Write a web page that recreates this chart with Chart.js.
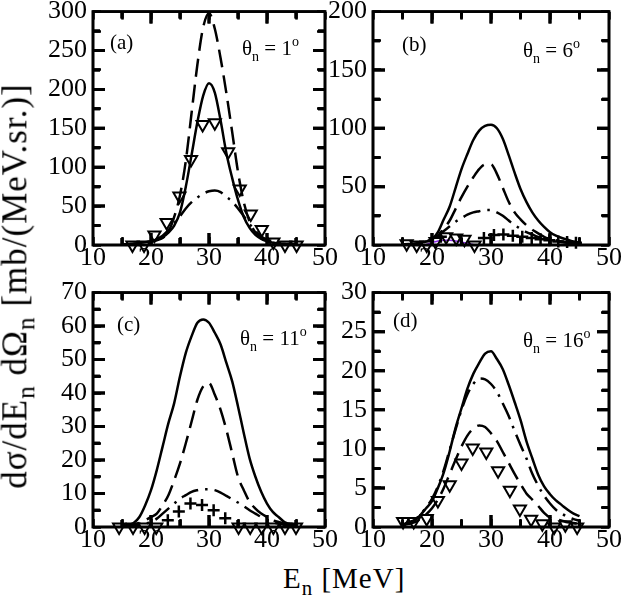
<!DOCTYPE html>
<html>
<head>
<meta charset="utf-8">
<script src="https://cdn.jsdelivr.net/npm/chart.js@4.4.0/dist/chart.umd.min.js"></script>
<style>
  body { margin: 0; background: #fff; }
  #wrap { position: relative; width: 623px; height: 604px; overflow: hidden; background: #fff; font-family: 'Liberation Serif', serif; color: #000; }
  canvas { position: absolute; }
  .txt { position: absolute; white-space: nowrap; line-height: 1; font-size: 21px; }
  .txt sub { font-size: 14px; vertical-align: -6px; }
  .txt sup { font-size: 14px; vertical-align: 9px; }
  .title { position: absolute; white-space: nowrap; line-height: 1; letter-spacing: 1px; }
  .title sub { font-size: 0.72em; vertical-align: -0.32em; }
</style>
</head>
<body>
<div id="wrap">
  <canvas id="panelA"></canvas>
  <canvas id="panelB"></canvas>
  <canvas id="panelC"></canvas>
  <canvas id="panelD"></canvas>

  <div class="txt" style="left:110px; top:32px;">(a)</div>
  <div class="txt" style="left:242px; top:35px;">θ<sub>n</sub> = 1<sup>o</sup></div>
  <div class="txt" style="left:402px; top:34px;">(b)</div>
  <div class="txt" style="left:523px; top:37px;">θ<sub>n</sub> = 6<sup>o</sup></div>
  <div class="txt" style="left:117px; top:314px;">(c)</div>
  <div class="txt" style="left:240px; top:325px;">θ<sub>n</sub> = 11<sup>o</sup></div>
  <div class="txt" style="left:393px; top:310px;">(d)</div>
  <div class="txt" style="left:523px; top:327px;">θ<sub>n</sub> = 16<sup>o</sup></div>

  <div class="title" style="font-size:35px; left:18px; top:286px; transform: translate(-50%, -50%) rotate(-90deg);">dσ/dE<sub>n</sub> dΩ<sub>n</sub> [mb/(MeV.sr.)]</div>
  <div class="title" style="font-size:29px; left:283px; top:564px;">E<sub>n</sub> [MeV]</div>
</div>
<script>
// neutron energy grid for the calculated curves (MeV)
var energy = [15, 16, 17, 18, 19, 20, 21, 22, 23, 24, 25, 26, 27, 28, 29, 30,
              31, 32, 33, 34, 35, 36, 37, 38, 39, 40, 41, 42, 43, 44, 45];
var xTicks = [10, 20, 30, 40, 50];

// (a) theta = 1 deg
var solidA   = [0.5, 1, 1.5, 2.5, 3.5, 5, 7, 10, 16, 25, 42, 75, 116, 158, 192, 208,
                196, 160, 118, 86, 58, 36, 22, 13, 8, 5, 3, 2, 1.5, 1, 0.5];
var dashedA  = [0.5, 0.8, 1.2, 2, 3, 4, 6, 9, 17, 36, 64, 108, 170, 232, 280, 298,
                278, 240, 195, 145, 94, 55, 30, 16, 9, 5, 3, 2, 1.2, 0.8, 0.5];
var dashDotA = [0.5, 1, 1.5, 2, 3, 5, 8, 12, 19, 28, 37, 47, 55, 61, 66, 69,
                70, 68, 62, 56, 47, 37, 27, 18, 11, 7, 5, 3, 2, 1.5, 1];
var triXA = [16.8, 18.8, 20.6, 22.7, 24.9, 26.9, 28.9, 31.0, 33.3, 35.3, 37.2, 39.1, 41.1, 43.1, 45.1];
var triYA = [0, 0, 13, 29, 63, 110, 155, 157, 120, 72, 40, 20, 4, 0, 0];

// (b) theta = 6 deg
var solidB   = [0.5, 0.8, 1, 2, 3, 5, 11, 22, 33, 49, 65, 78, 90, 98, 102, 103,
                100, 91, 77, 62, 48, 37, 28, 21, 15.5, 11, 8, 6, 4.5, 3, 2];
var dashedB  = [0.3, 0.5, 0.8, 1.5, 3, 5, 8, 14, 21, 31, 41, 50, 58, 65, 69, 69,
                61, 49, 37, 28, 22, 17, 13, 10, 7, 5, 4, 3, 2, 1.5, 1];
var dashDotB = [0.3, 0.5, 0.8, 1.5, 3, 5, 8, 12, 16, 20, 23, 26, 28, 29, 30, 30,
                28, 25, 21, 17, 14, 11, 9, 7, 5.5, 4, 3, 2.5, 2, 1.5, 1];
var violetXB = [19, 20, 21, 22, 23, 24, 25, 26, 27];
var violetYB = [0.5, 2, 3.5, 4, 4, 3.5, 2.5, 1.5, 0.5];
var triXB = [15.7, 17.4, 19.1, 20.6, 22.4, 24.1, 25.5, 27.2];
var triYB = [1, 0, 0, 3, 7, 6, 5, 0];
var plusXB = [21.5, 28.8, 30.5, 32.1, 33.7, 35.3, 36.9, 38.4, 39.9, 41.4, 42.9, 44.4];
var plusYB = [7, 6, 8.5, 9, 8, 7, 6, 5, 4, 3, 2.5, 2];

// (c) theta = 11 deg
var solidC   = [0.3, 0.6, 1.2, 3, 6.5, 11, 17, 24, 31, 37, 45, 52, 57, 61, 62, 61,
                58, 54.5, 49, 43.5, 36, 28, 20.5, 15, 10.5, 7, 4.5, 3, 1.5, 0.8, 0.5];
var dashedC  = [0.2, 0.4, 0.7, 1.2, 2, 3, 4, 6.5, 9.5, 14, 19, 25, 31.5, 38, 42, 43,
                39.5, 35, 29, 22, 15, 11, 7.5, 5.5, 4, 3, 2, 1.5, 1, 0.7, 0.5];
var dashDotC = [0.2, 0.3, 0.5, 0.7, 1, 1.5, 2.5, 4, 5.5, 7, 8.5, 9.5, 10.5, 11, 11.3, 11.3,
                11, 10.3, 9.3, 8.3, 7.3, 6.2, 5, 4, 3, 2.2, 1.5, 1, 0.6, 0.4, 0.3];
var triXC = [14.5, 16.9, 18.9, 20.9, 35.1, 37.1, 39.1, 41.1, 43.1, 45.0];
var triYC = [0, 0, 0, 0, 0, 0, 0, 0, 0, 0];
var plusXC = [22.9, 24.8, 26.8, 28.8, 30.8, 32.8];
var plusYC = [2, 4.6, 7, 6.6, 5, 2.6];

// (d) theta = 16 deg
var solidD   = [0.3, 0.5, 0.8, 1.5, 2.4, 3.3, 5, 7, 9.7, 12.7, 15.2, 17.7, 19.6, 21, 22.2, 22.5,
                21.5, 20.2, 18.2, 16, 13.7, 11, 8.8, 6.7, 5.2, 4.2, 3.4, 2.8, 2.2, 1.7, 1.4];
var dashDotD = [0.3, 0.6, 0.9, 1.6, 2.5, 3.6, 5.2, 7.3, 9.9, 12.5, 15, 17, 18.3, 19, 18.9, 18.3,
                17.3, 15.8, 14.2, 12.3, 10.5, 8.8, 6.8, 5.3, 4, 3, 2.2, 1.7, 1.3, 1, 0.8];
var dashedD  = [0.2, 0.4, 0.6, 1, 1.6, 2.4, 3.5, 5, 6.8, 8.6, 10.3, 11.7, 12.6, 13, 12.8, 12,
                11, 9.6, 8.2, 6.8, 5.5, 4.3, 3.5, 2.7, 1.8, 1.2, 1, 0.8, 0.6, 0.5, 0.4];
var triXD = [15.1, 16.9, 19.1, 21.0, 23.0, 25.0, 26.9, 29.2, 31.2, 33.2, 34.9, 36.8, 38.7, 40.7, 42.6, 44.6];
var triYD = [0.7, 0.7, 1.1, 3.4, 5.4, 8.2, 10.1, 9.6, 7.2, 4.7, 2.3, 1, 0.4, 0, 0.3, 0];

Chart.defaults.font.family = "'Liberation Serif', serif";
Chart.defaults.font.size = 26;
Chart.defaults.color = '#000';

var DASH = [18, 8];
var DASHDOT = [18, 7, 2.5, 7];

function pts(xs, ys) {
  return xs.map(function (x, i) { return { x: x, y: ys[i] }; });
}

function curve(xs, ys, dash, color, width) {
  return {
    data: pts(xs, ys),
    borderColor: color || '#000',
    borderWidth: width || 2.5,
    borderDash: dash || [],
    pointRadius: 0,
    tension: 0.4,
    cubicInterpolationMode: 'monotone',
    fill: false
  };
}

function marks(xs, ys, style) {
  var tri = style === 'triangle';
  return {
    data: pts(xs, ys),
    showLine: false,
    pointStyle: style,
    pointRotation: tri ? 180 : 0,
    pointRadius: tri ? 7 : 6,
    pointBorderWidth: tri ? 2 : 2.5,
    pointBorderColor: '#000',
    pointBackgroundColor: 'rgba(0,0,0,0)',
    clip: false
  };
}

// box with inward major/minor ticks on all four sides
function frameFor(yMinor, yRatio) {
  function drawBox(chart) {
    var ctx = chart.ctx, a = chart.chartArea;
    var xs = chart.scales.x, ys = chart.scales.y;
    ctx.save();
    ctx.setLineDash([]);
    ctx.globalAlpha = 1;
    ctx.globalCompositeOperation = 'source-over';
    ctx.strokeStyle = '#000';
    ctx.lineWidth = 3;
    ctx.lineCap = 'butt';
    var k, px, py, len;
    ctx.beginPath();
    for (k = 1; k < 8; k++) {
      px = xs.getPixelForValue(xTicks[0] + k * 5);
      len = (k % 2 === 0) ? 12 : 7;
      ctx.moveTo(px, a.bottom); ctx.lineTo(px, a.bottom - len);
      ctx.moveTo(px, a.top); ctx.lineTo(px, a.top + len);
    }
    var n = Math.round(ys.max / yMinor);
    for (k = 1; k < n; k++) {
      py = ys.getPixelForValue(k * yMinor);
      len = (k % yRatio === 0) ? 12 : 7;
      ctx.moveTo(a.left, py); ctx.lineTo(a.left + len, py);
      ctx.moveTo(a.right, py); ctx.lineTo(a.right - len, py);
    }
    ctx.stroke();
    ctx.lineWidth = 2.6;
    ctx.strokeRect(a.left, a.top, a.right - a.left, a.bottom - a.top);
    ctx.restore();
  }
  return {
    id: 'boxticks',
    afterDatasetsDraw: drawBox,
    afterDraw: drawBox
  };
}

var AXIS_W = 64, AXIS_H = 34, PAD_T = 18, PAD_R = 18, TICK_IN = -8;

// inward tick marks drawn by the scale itself
var tickGrid = {
  display: true, drawOnChartArea: false, drawTicks: true,
  tickLength: TICK_IN, tickWidth: 2.5, tickColor: '#000'
};

function build(cv, top, box, yMax, yMajor, yMinor, datasets) {
  cv.width = box.R - box.L + AXIS_W + PAD_R;
  cv.height = box.B - box.T + AXIS_H + top;
  cv.style.left = (box.L - AXIS_W) + 'px';
  cv.style.top = (box.T - top) + 'px';
  var xLabel = function (v) { return xTicks.indexOf(v) >= 0 ? v : ''; };
  var yLabel = function (v) { return Math.abs(v / yMajor - Math.round(v / yMajor)) < 1e-6 ? v : ''; };
  return new Chart(cv, {
    type: 'line',
    data: { datasets: datasets },
    options: {
      responsive: false,
      maintainAspectRatio: false,
      animation: false,
      devicePixelRatio: 1,
      layout: { padding: { top: PAD_T, right: PAD_R, left: 0, bottom: 0 } },
      plugins: {
        legend: { display: false },
        tooltip: { enabled: false }
      },
      scales: {
        x: {
          type: 'linear', position: 'bottom', min: xTicks[0], max: xTicks[xTicks.length - 1],
          ticks: { stepSize: 5, callback: xLabel, padding: -2 - TICK_IN, maxRotation: 0, autoSkip: false },
          grid: tickGrid,
          border: { display: false },
          afterFit: function (s) { s.height = AXIS_H; }
        },
        x2: {
          type: 'linear', axis: 'x', position: 'top', min: xTicks[0], max: xTicks[xTicks.length - 1],
          ticks: { stepSize: 5, display: false },
          grid: tickGrid,
          border: { display: false },
          afterFit: function (s) { s.height = 0; }
        },
        y: {
          type: 'linear', position: 'left', min: 0, max: yMax,
          ticks: { stepSize: yMinor, callback: yLabel, padding: 6 - TICK_IN, autoSkip: false },
          grid: tickGrid,
          border: { display: false },
          afterFit: function (s) { s.width = AXIS_W; }
        },
        y2: {
          type: 'linear', axis: 'y', position: 'right', min: 0, max: yMax,
          ticks: { stepSize: yMinor, display: false },
          grid: tickGrid,
          border: { display: false },
          afterFit: function (s) { s.width = 0; }
        }
      }
    },
    plugins: [frameFor(yMinor, Math.round(yMajor / yMinor))]
  });
}

// build once, then rebuild with the measured top offset so the plot box lands on target
function panel(id, box, yMax, yMajor, yMinor, makeSets) {
  var cv = document.getElementById(id);
  var chart = build(cv, PAD_T, box, yMax, yMajor, yMinor, makeSets());
  var top = Math.round(chart.chartArea.top);
  if (top !== PAD_T) {
    chart.destroy();
    chart = build(cv, top, box, yMax, yMajor, yMinor, makeSets());
  }
  var a = chart.chartArea;
  cv.style.left = (box.L - a.left) + 'px';
  cv.style.top = (box.T - a.top) + 'px';
}

panel('panelA', { L: 93, T: 12, R: 326, B: 245 }, 300, 50, 25, function () {
  return [
    marks(triXA, triYA, 'triangle'),
    curve(energy, solidA), curve(energy, dashedA, DASH), curve(energy, dashDotA, DASHDOT)
  ];
});

panel('panelB', { L: 373, T: 12, R: 610, B: 245 }, 200, 50, 25, function () {
  return [
    marks(triXB, triYB, 'triangle'), marks(plusXB, plusYB, 'cross'),
    curve(energy, solidB), curve(energy, dashedB, DASH), curve(energy, dashDotB, DASHDOT),
    curve(violetXB, violetYB, [], '#8a2be2', 1.5)
  ];
});

panel('panelC', { L: 93, T: 293, R: 326, B: 527 }, 70, 10, 5, function () {
  return [
    marks(triXC, triYC, 'triangle'), marks(plusXC, plusYC, 'cross'),
    curve(energy, solidC), curve(energy, dashedC, DASH), curve(energy, dashDotC, DASHDOT)
  ];
});

panel('panelD', { L: 373, T: 293, R: 610, B: 527 }, 30, 5, 2.5, function () {
  return [
    marks(triXD, triYD, 'triangle'),
    curve(energy, solidD), curve(energy, dashDotD, DASHDOT), curve(energy, dashedD, DASH)
  ];
});
</script>
</body>
</html>
